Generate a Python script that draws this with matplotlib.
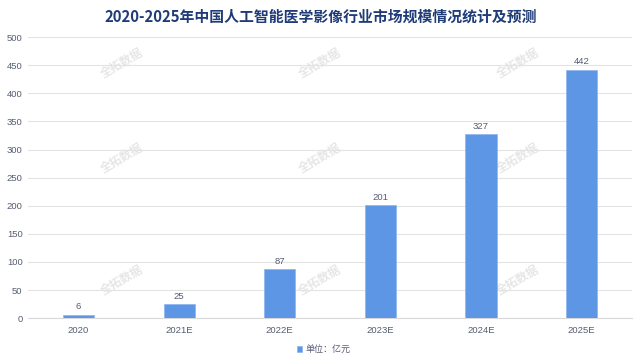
import numpy as np
import matplotlib.pyplot as plt

plt.rcParams['font.family'] = ['Liberation Sans', 'Noto Sans CJK SC', 'DejaVu Sans']

# data
years = ['2020', '2021E', '2022E', '2023E', '2024E', '2025E']
market_size = [6, 25, 87, 201, 327, 442]
y_ticks = [0, 50, 100, 150, 200, 250, 300, 350, 400, 450, 500]

bar_color = '#5e96e6'
text_color = '#555d72'

fig = plt.figure(figsize=(6.41, 3.64), dpi=100)
ax = fig.add_axes([0.044, 0.126, 0.942, 0.772])

x = np.arange(len(years))
ax.bar(x, market_size, width=0.31, color=bar_color, edgecolor='#8ab4ee', linewidth=0.5,
       label='单位：亿元', zorder=3)

for xi, v in zip(x, market_size):
    ax.text(xi, v + 6, str(v), ha='center', va='bottom', fontsize=6.8, color=text_color, zorder=4)

ax.set_xlim(-0.5, len(years) - 0.5)
ax.set_ylim(0, 500)
ax.set_yticks(y_ticks)
ax.set_xticks(x)
ax.set_xticklabels(years)
ax.tick_params(axis='both', length=0, labelsize=6.8, labelcolor=text_color)
ax.tick_params(axis='x', pad=6)
ax.tick_params(axis='y', pad=4)
ax.grid(axis='y', color='#e3e3e3', linewidth=0.8, zorder=0)
for s in ['top', 'right', 'left']:
    ax.spines[s].set_visible(False)
ax.spines['bottom'].set_color('#d9d9d9')

# watermark, behind the bars
for wy in [0.827, 0.566, 0.231]:
    for wx in [0.19, 0.499, 0.808]:
        ax.text(wx, wy, '全拓数据', transform=fig.transFigure, fontsize=8.5, color='#e6e6e6',
                rotation=30, ha='center', va='center', fontweight='bold',
                family='Noto Sans CJK SC', zorder=1)

fig.text(0.5, 0.955, '2020-2025年中国人工智能医学影像行业市场规模情况统计及预测',
         ha='center', va='center', fontsize=10.7, fontweight='bold', color='#1f3c78',
         family=['Noto Sans CJK SC', 'DejaVu Sans'])

fig.legend(loc='center', bbox_to_anchor=(0.505, 0.04), frameon=False,
           prop={'family': ['Noto Sans CJK SC'], 'size': 6.5},
           handlelength=0.6, handleheight=0.6, handletextpad=0.4, labelcolor=text_color)

fig.savefig('out.png', dpi=100)
